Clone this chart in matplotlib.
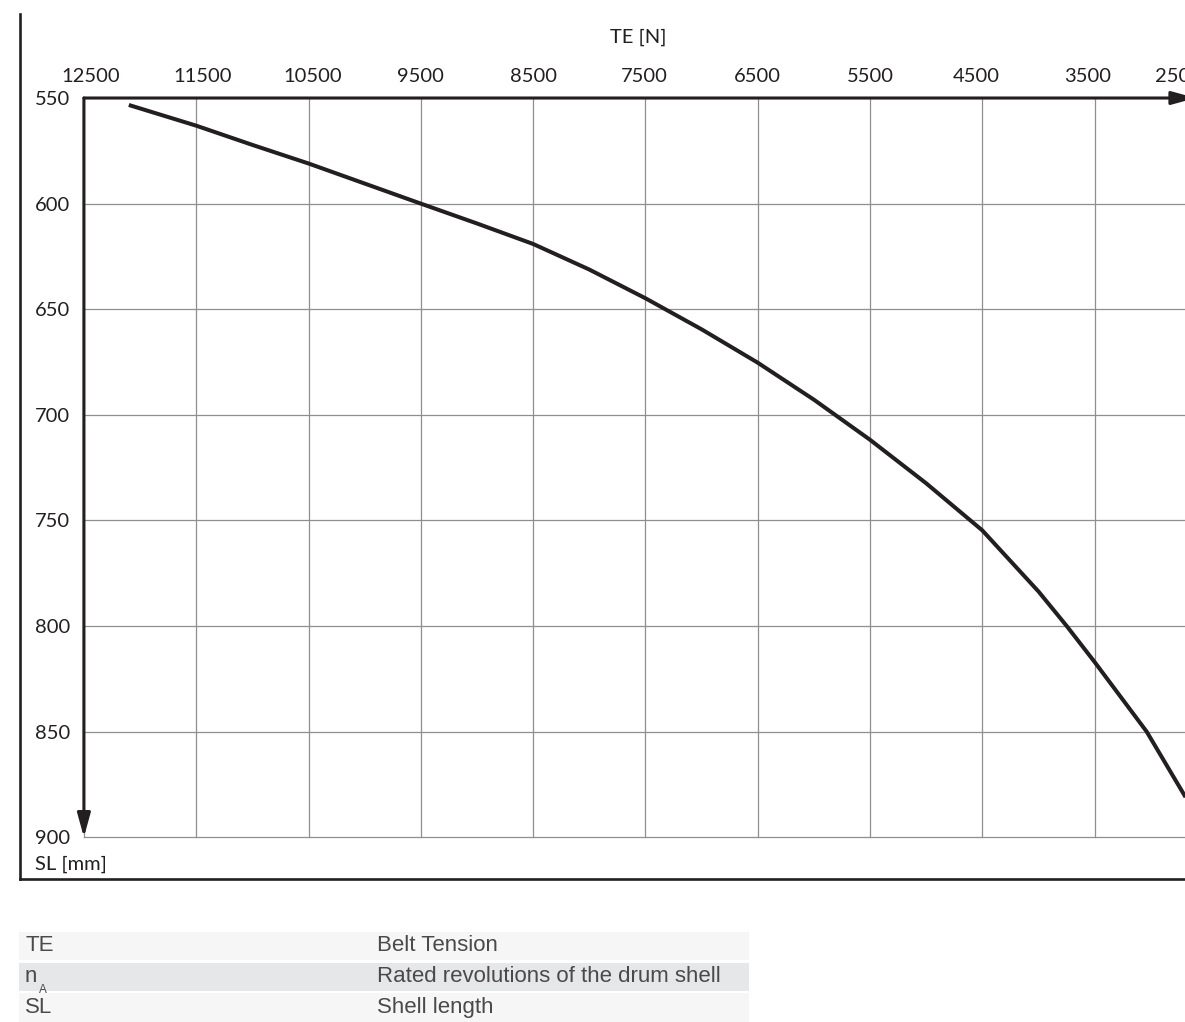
import matplotlib.pyplot as plt
from matplotlib.lines import Line2D
from matplotlib.patches import Rectangle
from matplotlib.transforms import ScaledTranslation

# belt tension TE [N] vs. shell length SL [mm]
te = [12100, 11500, 11000, 10500, 10000, 9500, 9000, 8500, 8000, 7500,
      7000, 6500, 6000, 5500, 5000, 4500, 4000, 3748, 3500, 3036, 2690]
sl = [553.3, 563.1, 572.2, 581.0, 590.5, 600.0, 609.4, 619.1, 631.2, 644.8,
      659.5, 675.3, 692.8, 711.8, 732.4, 754.7, 783.6, 800.0, 817.0, 850.0,
      881.0]

x_ticks = [12500, 11500, 10500, 9500, 8500, 7500, 6500, 5500, 4500, 3500, 2500]
y_ticks = [550, 600, 650, 700, 750, 800, 850, 900]
# small horizontal nudges of the top labels, in pixels (as in the source drawing)
x_label_nudge = [6.5, 6.5, 4, 0, 0, -1, 0, 0, -6, -6.5, -28]

legend_sym = ['TE', 'n', 'SL']
legend_txt = ['Belt Tension', 'Rated revolutions of the drum shell', 'Shell length']
row_colors = ['#f6f6f6', '#e6e7e8', '#f6f6f6']

ink = '#231f20'
W, H = 1185, 1022

plt.rcParams['font.family'] = ['Lato', 'DejaVu Sans']

fig = plt.figure(figsize=(W / 100, H / 100), dpi=100)

def fx(px):
    return px / W

def fy(py):
    return 1 - py / H

ax = fig.add_axes([fx(83.9), fy(837.3), 1123 / W, (837.3 - 98) / H])
ax.plot(te, sl, color=ink, lw=2.9, solid_capstyle='butt', solid_joinstyle='round')
ax.set_xlim(12500, 2500)
ax.set_ylim(900, 550)
ax.set_xticks(x_ticks)
ax.set_yticks(y_ticks)
ax.xaxis.tick_top()
ax.tick_params(axis='x', length=0, pad=9.5, labelsize=14.5, labelcolor=ink)
ax.tick_params(axis='y', length=0, pad=10, labelsize=14.5, labelcolor=ink)
ax.grid(True, color='#8f8f8f', lw=0.9)
for g in ax.get_xgridlines() + ax.get_ygridlines():
    g.set_clip_on(False)
for s in ax.spines.values():
    s.set_visible(False)

for lab, dx in zip(ax.get_xticklabels(), x_label_nudge):
    lab.set_transform(lab.get_transform() + ScaledTranslation(dx / 100, 0, fig.dpi_scale_trans))

# axis arrows
arrow = dict(arrowstyle='-|>,head_length=0.8,head_width=0.22', lw=2.2,
             color=ink, mutation_scale=18, shrinkA=0, shrinkB=0)
ax.annotate('', xy=(0.990, 1), xytext=(0, 1), xycoords='axes fraction',
            arrowprops=arrow, annotation_clip=False)
ax.annotate('', xy=(0, 0), xytext=(0, 1), xycoords='axes fraction',
            arrowprops=arrow, annotation_clip=False)

fig.text(fx(638), fy(37), 'TE [N]', ha='center', va='center', fontsize=14.5, color=ink)
fig.text(fx(35), fy(864), 'SL [mm]', ha='left', va='center', fontsize=14.5, color=ink)

# outer frame
fig.add_artist(Line2D([fx(20), fx(20)], [fy(14), fy(879)], color=ink, lw=1.9))
fig.add_artist(Line2D([fx(20), 1], [fy(879), fy(879)], color=ink, lw=1.9))

# legend table
rows = [(931.7, 960.0), (962.7, 990.7), (993.3, 1022.0)]
tcol = '#4a4a4a'
tfont = ['Liberation Sans', 'DejaVu Sans']
for i, (top, bot) in enumerate(rows):
    fig.add_artist(Rectangle((fx(19), fy(bot)), (749 - 19) / W, (bot - top) / H,
                             transform=fig.transFigure, color=row_colors[i], lw=0))
    yc = fy((top + bot) / 2)
    fig.text(fx(25), yc, legend_sym[i], ha='left', va='center', fontsize=16,
             color=tcol, family=tfont)
    fig.text(fx(377), yc, legend_txt[i], ha='left', va='center', fontsize=16,
             color=tcol, family=tfont)
fig.text(fx(39), fy(990), 'A', ha='left', va='center', fontsize=8.5,
         color=tcol, family=tfont)

fig.savefig('out.png', dpi=100)
